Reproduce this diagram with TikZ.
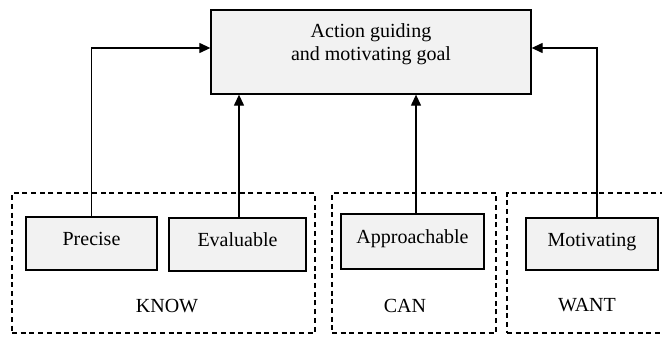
\documentclass[tikz,border=0pt]{standalone}
\usepackage{fontspec}
\setmainfont{Liberation Serif}
\usetikzlibrary{arrows.meta}
\definecolor{boxfill}{RGB}{242,242,242}
\begin{document}
\begin{tikzpicture}[
  x=1pt, y=-1pt,
  font=\fontsize{20}{23}\selectfont,
  box/.style={draw, line width=1.3pt, fill=boxfill, inner sep=0pt,
    text height=14pt, text depth=10pt},
  group/.style={draw, line width=2pt, dash pattern=on 5pt off 3.7pt, inner sep=0pt},
  e/.style={line width=1.2pt, -{Triangle[length=11pt,width=10pt]}}
]
\useasboundingbox (0,0) rectangle (662,340);
\clip (0,0) rectangle (662,340);

% dashed groups
\node[group, minimum width=303pt, minimum height=140pt] (knowgrp) at (163.5,263) {};
\node[group, minimum width=164pt, minimum height=140pt] (cangrp) at (414,263) {};
\node[group, minimum width=170pt, minimum height=140pt] (wantgrp) at (592,263) {};
\node (know) at (167,306) {KNOW};
\node (can) at (405,306) {CAN};
\node (want) at (587,305) {WANT};

% goal
\node[draw, line width=1.3pt, fill=boxfill, minimum width=320pt, minimum height=84pt] (goal) at (371,52) {};
\node[align=center] (goaltxt) at (371,44) {Action guiding\\and motivating goal};

% criteria
\node[box, minimum width=131pt, minimum height=53pt] (precise) at (91.5,243.5) {Precise};
\node[box, minimum width=137pt, minimum height=53pt] (eval) at (237.5,244.5) {Evaluable};
\node[box, minimum width=143pt, minimum height=55pt] (approach) at (412.5,241.5) {Approachable};
\node[box, minimum width=132pt, minimum height=52pt] (motiv) at (592,244) {Motivating};

% arrows into the goal
\draw[e] (precise.north) |- ([yshift=4pt]goal.west);
\draw[e] ([xshift=1.5pt]eval.north) -- ([xshift=1.5pt]eval.north |- goal.south);
\draw[e] ([xshift=3.5pt]approach.north) -- ([xshift=3.5pt]approach.north |- goal.south);
\draw[e] ([xshift=5pt]motiv.north) |- ([yshift=4pt]goal.east);
\end{tikzpicture}
\end{document}
